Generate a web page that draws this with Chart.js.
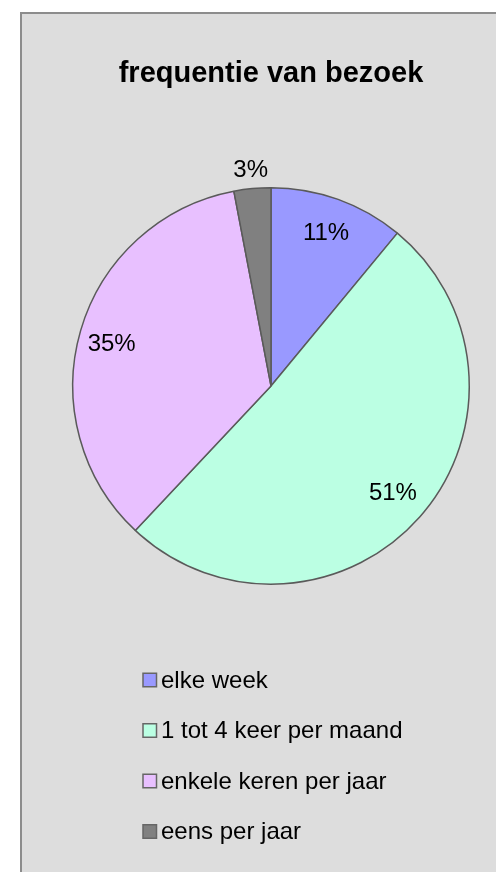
<!DOCTYPE html>
<html lang="nl">
<head>
    <meta charset="UTF-8">
    <title>frequentie van bezoek</title>
    <script src="https://cdn.jsdelivr.net/npm/chart.js"></script>
    <style>
        html, body { margin: 0; padding: 0; background: #ffffff; }
        body { width: 496px; height: 872px; position: relative; overflow: hidden; }
        .frame {
            position: absolute; left: 20px; top: 12px; width: 520px; height: 900px;
            background: #dddddd; border-left: 2px solid #8c8c8c; border-top: 2px solid #8c8c8c;
        }
        #pieChart { position: absolute; left: 0; top: 0; }
    </style>
</head>
<body>
    <div class="frame"></div>
    <canvas id="pieChart" width="496" height="872"></canvas>

    <script>
        // data
        const categories = ['elke week', '1 tot 4 keer per maand', 'enkele keren per jaar', 'eens per jaar'];
        const percentages = [11, 51, 35, 3];
        const sliceColors = ['#9999ff', '#bbffe3', '#e8c0ff', '#808080'];
        const chartTitle = 'frequentie van bezoek';

        const FONT = '"Liberation Sans", Arial, sans-serif';

        // percentage labels on/near the slices
        const sliceLabels = {
            id: 'sliceLabels',
            afterDatasetsDraw(chart, args, opts) {
                const ctx = chart.ctx;
                const arcs = chart.getDatasetMeta(0).data;
                ctx.save();
                ctx.font = '24px ' + FONT;
                ctx.fillStyle = '#000';
                ctx.textAlign = 'center';
                ctx.textBaseline = 'middle';
                arcs.forEach((arc, i) => {
                    const mid = (arc.startAngle + arc.endAngle) / 2 + opts.shift[i];
                    const r = arc.outerRadius * opts.radius[i];
                    ctx.fillText(percentages[i] + '%', arc.x + Math.cos(mid) * r, arc.y + Math.sin(mid) * r);
                });
                ctx.restore();
            }
        };

        // vertical legend below the pie
        const listLegend = {
            id: 'listLegend',
            afterDraw(chart, args, opts) {
                const ctx = chart.ctx;
                const ds = chart.data.datasets[0];
                ctx.save();
                ctx.font = '24px ' + FONT;
                ctx.textBaseline = 'middle';
                chart.data.labels.forEach((label, i) => {
                    const y = opts.top + i * opts.step;
                    ctx.fillStyle = ds.backgroundColor[i];
                    ctx.fillRect(opts.left, y - opts.box / 2, opts.box, opts.box);
                    ctx.strokeStyle = '#666666';
                    ctx.lineWidth = 1.5;
                    ctx.strokeRect(opts.left, y - opts.box / 2, opts.box, opts.box);
                    ctx.fillStyle = '#000';
                    ctx.fillText(label, opts.left + opts.box + 4.5, y + 1);
                });
                ctx.restore();
            }
        };

        const ctx = document.getElementById('pieChart').getContext('2d');
        new Chart(ctx, {
            type: 'pie',
            data: {
                labels: categories,
                datasets: [{
                    data: percentages,
                    backgroundColor: sliceColors,
                    borderColor: '#5a5a5a',
                    borderWidth: 1.5
                }]
            },
            options: {
                responsive: false,
                animation: false,
                layout: { padding: { left: 72, right: 26, top: 0, bottom: 287 } },
                plugins: {
                    legend: { display: false },
                    tooltip: { enabled: false },
                    title: {
                        display: true,
                        text: chartTitle,
                        color: '#000',
                        font: { family: FONT, size: 29, weight: 'bold', lineHeight: 1.2 },
                        padding: { top: 57, bottom: 95 }
                    },
                    sliceLabels: { radius: [0.82, 0.82, 0.83, 1.09], shift: [0, 0, -0.03, 0] },
                    listLegend: { left: 143, top: 680, step: 50.5, box: 13.5 }
                }
            },
            plugins: [sliceLabels, listLegend]
        });
    </script>
</body>
</html>
